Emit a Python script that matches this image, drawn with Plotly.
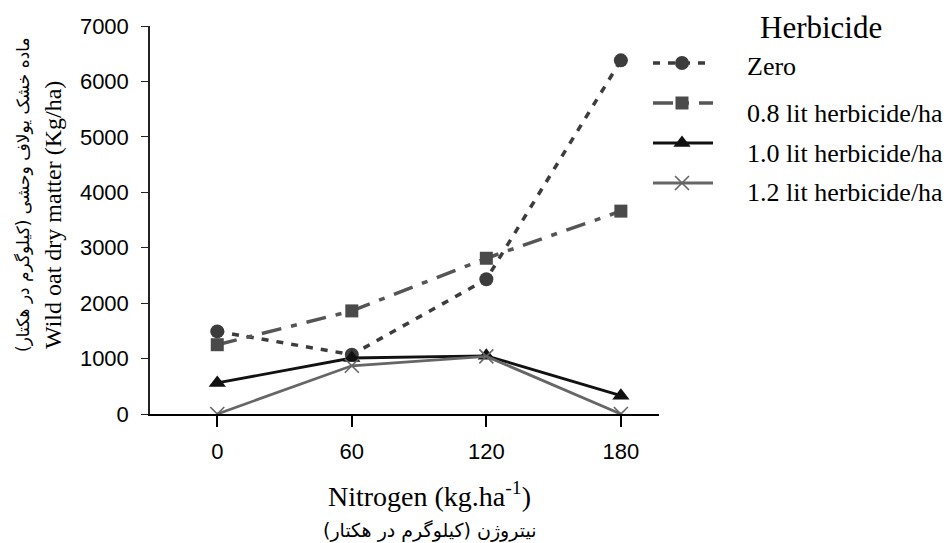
import plotly.graph_objects as go

# ---------------- data ----------------
nitrogen = [0, 60, 120, 180]
nitrogen_labels = ["0", "60", "120", "180"]
zero_herb = [1490, 1070, 2430, 6380]
herb_08 = [1250, 1860, 2810, 3660]
herb_10 = [560, 1010, 1050, 330]
herb_12 = [0, 870, 1040, 0]
series_names = ["Zero", "0.8 lit herbicide/ha", "1.0 lit herbicide/ha", "1.2 lit herbicide/ha"]
y_ticks = [0, 1000, 2000, 3000, 4000, 5000, 6000, 7000]

# ---------------- layout geometry (pixels) ----------------
W, H = 947, 543
L, R, T, B = 150, 0, 26, 129
PW = W - L - R
PH = H - T - B
PLOT_RIGHT = 659
SERIF = "Liberation Serif, Times New Roman, serif"


def px(x):
    return (x - L) / PW


def py(y):
    return (H - B - y) / PH


styles = [
    dict(line=dict(color="#3c3c3c", width=3.5, dash="7px,8px"),
         marker=dict(symbol="circle", size=14, color="#3c3c3c")),
    dict(line=dict(color="#555555", width=3.5, dash="20px,10px,6px,10px"),
         marker=dict(symbol="square", size=13, color="#4a4a4a")),
    dict(line=dict(color="#111111", width=2.8),
         marker=dict(symbol="triangle-up", size=15, color="#111111")),
    dict(line=dict(color="#666666", width=2.8),
         marker=dict(symbol="x-thin", size=14, color="#666666",
                     line=dict(color="#666666", width=1.6))),
]
values = [zero_herb, herb_08, herb_10, herb_12]

fig = go.Figure()
for name, vals, st in zip(series_names, values, styles):
    fig.add_trace(go.Scatter(x=nitrogen, y=vals, mode="lines+markers", name=name,
                             line=st["line"], marker=st["marker"], showlegend=False))

# ---------------- custom legend (on helper axes in pixel units) ----------------
legend_rows = [63, 103, 143, 183]
legend_text_rows = [67, 114, 153, 192]
for name, st, ry in zip(series_names, styles, legend_rows):
    fig.add_trace(go.Scatter(x=[653, 713], y=[ry, ry], mode="lines", line=st["line"],
                             xaxis="x2", yaxis="y2", showlegend=False, hoverinfo="skip"))
    fig.add_trace(go.Scatter(x=[682], y=[ry], mode="markers", marker=st["marker"],
                             xaxis="x2", yaxis="y2", showlegend=False, hoverinfo="skip"))

annotations = []
annotations.append(dict(text="Herbicide", x=px(758), y=py(28), xref="paper", yref="paper",
                        xanchor="left", yanchor="middle", showarrow=False,
                        font=dict(family=SERIF, size=31, color="#000")))
for name, ty in zip(series_names, legend_text_rows):
    annotations.append(dict(text=name, x=px(745), y=py(ty), xref="paper", yref="paper",
                            xanchor="left", yanchor="middle", showarrow=False,
                            font=dict(family=SERIF, size=26, color="#000")))

# axis titles
annotations.append(dict(text="Wild oat dry matter (Kg/ha)", x=px(53), y=py(215),
                        xref="paper", yref="paper", xanchor="center", yanchor="middle",
                        textangle=-90, showarrow=False,
                        font=dict(family=SERIF, size=24, color="#000")))
annotations.append(dict(text="ماده خشک یولاف وحشی (کیلوگرم در هکتار)", x=px(23), y=py(195),
                        xref="paper", yref="paper", xanchor="center", yanchor="middle",
                        textangle=-90, showarrow=False,
                        font=dict(family="DejaVu Sans", size=17, color="#000")))
annotations.append(dict(text="Nitrogen (kg.ha<sup>-1</sup>)", x=px(429), y=py(495),
                        xref="paper", yref="paper", xanchor="center", yanchor="middle",
                        showarrow=False,
                        font=dict(family=SERIF, size=28, color="#000")))
annotations.append(dict(text="نیتروژن (کیلوگرم در هکتار)", x=px(430), y=py(530),
                        xref="paper", yref="paper", xanchor="center", yanchor="middle",
                        showarrow=False,
                        font=dict(family="DejaVu Sans", size=19, color="#000")))

fig.update_layout(
    width=W, height=H,
    margin=dict(l=L, r=R, t=T, b=B, pad=0),
    paper_bgcolor="white", plot_bgcolor="white",
    showlegend=False,
    annotations=annotations,
    xaxis=dict(domain=[0, (PLOT_RIGHT - L) / PW], range=[-30, 197],
               tickvals=nitrogen, ticktext=nitrogen_labels,
               showgrid=False, zeroline=False, showline=True, linecolor="#000", linewidth=2,
               ticks="outside", ticklen=11, tickwidth=1.5, tickcolor="#000",
               ticklabelstandoff=6,
               tickfont=dict(family="Liberation Sans, Arial, sans-serif", size=22, color="#000")),
    yaxis=dict(range=[0, 7000], tickvals=y_ticks,
               showgrid=False, zeroline=False, showline=True, linecolor="#222", linewidth=1.5,
               ticks="outside", ticklen=7, tickwidth=1.3, tickcolor="#222",
               ticklabelstandoff=8,
               tickfont=dict(family="Liberation Sans, Arial, sans-serif", size=22, color="#000")),
    xaxis2=dict(domain=[px(640), 1], range=[640, 947], visible=False, fixedrange=True),
    yaxis2=dict(domain=[0, 1], range=[H - B, T], anchor="x2", visible=False, fixedrange=True),
)

fig.write_html("out.html")
